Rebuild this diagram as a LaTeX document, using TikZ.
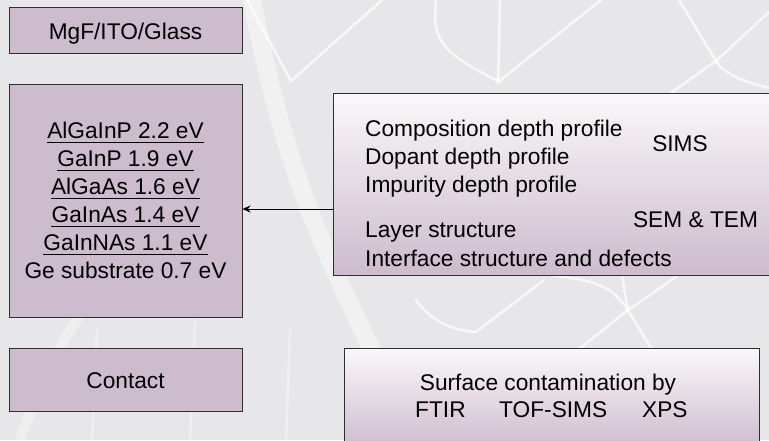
\documentclass[tikz,border=0pt]{standalone}
\usepackage{fontspec}
\setmainfont{Liberation Sans}
\usetikzlibrary{arrows.meta}

\definecolor{panel}{HTML}{E7E7E9}
\definecolor{mauve}{HTML}{CDBBCE}
\definecolor{mauvetop}{HTML}{FAF8FA}
\definecolor{edge}{HTML}{2E2E2E}

\tikzset{
  layer/.style={draw=edge, line width=1pt, fill=mauve, minimum width=233pt, inner sep=0pt},
  probe/.style={draw=edge, line width=1pt, top color=mauvetop, bottom color=mauve, inner sep=0pt},
  txt/.style={inner sep=0pt, anchor=base},
  item/.style={inner sep=0pt, anchor=base west},
  gap/.style={white, line width=2.5pt, opacity=0.75, line cap=round}
}

\begin{document}
\begin{tikzpicture}[x=1pt, y=-1pt, font=\fontsize{22.7}{28}\selectfont]
\useasboundingbox (0,0) rectangle (769,440);
\clip (0,0) rectangle (769,440);
\fill[panel] (0,0) rectangle (769,440);

% solar panel behind: broad glare and the gaps between cells
\draw[white, line width=18pt, opacity=0.45] (250,-10) .. controls (290,200) and (330,260) .. (420,450);
\draw[white, line width=10pt, opacity=0.35] (20,440) .. controls (60,330) and (90,300) .. (130,250);
\draw[gap] (247,0) -- (291,81) -- (382,0);
\draw[gap] (436,0) .. controls (432,40) and (440,52) .. (500,82);
\draw[gap] (500,0) -- (498,82) -- (601,0);
\draw[gap] (679,0) -- (716,61) -- (769,12);
\draw[gap] (716,61) -- (672,92);
\draw[gap] (716,61) .. controls (725,75) and (745,82) .. (769,88);
\draw[gap] (416,300) .. controls (430,320) and (450,330) .. (476,332);
\draw[gap] (476,332) -- (544,280);
\draw[gap] (554,276) .. controls (600,280) and (615,290) .. (628,310);
\draw[gap] (622,276) -- (628,310) -- (676,277);
\draw[gap] (628,310) -- (578,350);
\draw[gap] (628,310) -- (652,350);
\draw[gap, opacity=0.4] (97,330) -- (92,440);
\draw[gap, opacity=0.4] (195,320) -- (190,440);
\draw[gap, opacity=0.4] (290,330) -- (286,440);

% layer stack of the cell
\node[layer, minimum height=46pt] (glass) at (125.5,30) {};
\node[txt] (glasstxt) at (125.5,39) {MgF/ITO/Glass};

\node[layer, minimum height=233pt] (layers) at (125.5,200.5) {};
\foreach \name/\label [count=\i from 0] in {algainp/AlGaInP 2.2 eV, gainp/GaInP 1.9 eV,
    algaas/AlGaAs 1.6 eV, gainas/GaInAs 1.4 eV, gainnas/GaInNAs 1.1 eV}{
  \node[txt] (\name) at (125.5,138.5+28*\i) {\label};
  \draw[line width=1.3pt] ([yshift=-4pt]\name.base west) -- ([yshift=-4pt]\name.base east);
}
\node[txt] (ge) at (125.5,278.5) {Ge substrate 0.7 eV};

\node[layer, minimum height=63pt] (contact) at (125.5,379.5) {};
\node[txt] (contacttxt) at (125.5,388.5) {Contact};

% analysis methods
\node[probe, minimum width=439pt, minimum height=182pt] (probes) at (552.5,184) {};
\node[item] (comp) at (365,136.5) {Composition depth profile};
\node[item] (dopant) at (365,164) {Dopant depth profile};
\node[item] (impurity) at (365,192) {Impurity depth profile};
\node[item] (struct) at (365,237.5) {Layer structure};
\node[item] (iface) at (365,266) {Interface structure and defects};
\node[txt] (sims) at (680,151) {SIMS};
\node[txt] (semtem) at (695.5,227.3) {SEM \& TEM};

\node[probe, minimum width=415pt, minimum height=101pt] (surface) at (551.5,399) {};
\node[txt] (surftxt) at (548,390) {Surface contamination by};
\node[item] (ftir) at (415,417) {FTIR};
\node[item] (tofsims) at (499,417) {TOF-SIMS};
\node[item] (xps) at (642,417) {XPS};

\coordinate (arrowtail) at ([yshift=-25pt]probes.west);
\draw[-{Stealth[length=8pt,width=7pt]}, line width=1pt] (arrowtail) -- (arrowtail -| layers.east);
\end{tikzpicture}
\end{document}
